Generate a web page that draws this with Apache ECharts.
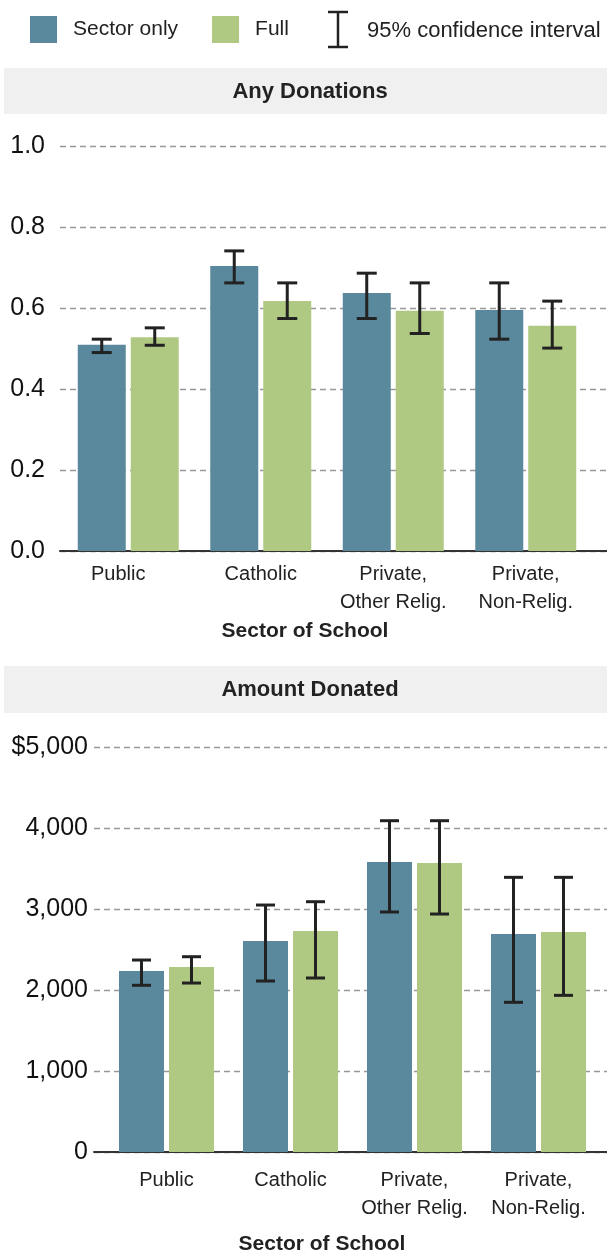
<!DOCTYPE html>
<html>
<head>
<meta charset="utf-8">
<script src="https://cdn.jsdelivr.net/npm/echarts@6/dist/echarts.min.js"></script>
<style>
  html, body { margin: 0; padding: 0; background: #fff; }
  #chart { width: 607px; height: 1253px; }
</style>
</head>
<body>
<div id="chart"></div>
<script>
// categories and values
var categories = ['Public', 'Catholic', 'Private,\nOther Relig.', 'Private,\nNon-Relig.'];

var anySector   = [0.509, 0.704, 0.637, 0.595];
var anySectorLo = [0.490, 0.662, 0.574, 0.523];
var anySectorHi = [0.523, 0.741, 0.686, 0.662];
var anyFull     = [0.528, 0.617, 0.593, 0.556];
var anyFullLo   = [0.508, 0.574, 0.537, 0.501];
var anyFullHi   = [0.551, 0.662, 0.662, 0.617];

var amtSector   = [2235, 2605, 3580, 2691];
var amtSectorLo = [2058, 2111, 2963, 1848];
var amtSectorHi = [2370, 3049, 4090, 3391];
var amtFull     = [2284, 2728, 3568, 2716];
var amtFullLo   = [2086, 2148, 2938, 1934];
var amtFullHi   = [2411, 3090, 4090, 3391];

var BLUE = '#5a889c', GREEN = '#b0c982', INK = '#222';
var FONT = '"Liberation Sans", Arial, sans-serif';

var chart = echarts.init(document.getElementById('chart'));

// rows for the error bar series: [category index, low, high]
function ciRows(lo, hi) {
  return lo.map(function (v, i) { return [i, v, hi[i]]; });
}

// draws an I-beam, shifted sideways to sit over its bar
function errorBar(shift, cap) {
  return function (params, api) {
    var i = api.value(0);
    var pLo = api.coord([i, api.value(1)]);
    var pHi = api.coord([i, api.value(2)]);
    var x = pLo[0] + shift;
    var st = { stroke: INK, lineWidth: 3 };
    return {
      type: 'group',
      children: [
        { type: 'line', shape: { x1: x, y1: pHi[1], x2: x, y2: pLo[1] }, style: st },
        { type: 'line', shape: { x1: x - cap, y1: pHi[1], x2: x + cap, y2: pHi[1] }, style: st },
        { type: 'line', shape: { x1: x - cap, y1: pLo[1], x2: x + cap, y2: pLo[1] }, style: st }
      ]
    };
  };
}

var gridLine = { show: true, lineStyle: { color: '#999', type: [6, 4], width: 1.3 } };

function panelGrid(left, right, top) {
  return { left: left, right: right, top: top, height: 405, outerBoundsMode: 'none', containLabel: false };
}

var option = {
  animation: false,
  textStyle: { fontFamily: FONT },
  legend: {
    data: ['Sector only', 'Full'],
    left: 30, top: 16, padding: 0,
    itemWidth: 27, itemHeight: 27, itemGap: 34,
    icon: 'rect',
    selectedMode: false,
    textStyle: { fontSize: 21, color: INK, padding: [3, 0, 0, 11] }
  },
  graphic: [
    // legend entry for the confidence interval
    { type: 'line', shape: { x1: 338, y1: 12, x2: 338, y2: 47 }, style: { stroke: INK, lineWidth: 2.5 } },
    { type: 'line', shape: { x1: 328, y1: 12, x2: 348, y2: 12 }, style: { stroke: INK, lineWidth: 2.5 } },
    { type: 'line', shape: { x1: 328, y1: 47, x2: 348, y2: 47 }, style: { stroke: INK, lineWidth: 2.5 } },
    { type: 'text', x: 367, y: 31, style: { text: '95% confidence interval', fontSize: 22, fill: INK, verticalAlign: 'middle', fontFamily: FONT } },
    // panel headers
    { type: 'rect', shape: { x: 4, y: 68, width: 603, height: 46 }, style: { fill: '#eff0ef' } },
    { type: 'text', x: 310, y: 92, style: { text: 'Any Donations', fontSize: 22, fontWeight: 'bold', fill: INK, align: 'center', verticalAlign: 'middle', fontFamily: FONT } },
    { type: 'rect', shape: { x: 4, y: 666, width: 603, height: 47 }, style: { fill: '#eff0ef' } },
    { type: 'text', x: 310, y: 690, style: { text: 'Amount Donated', fontSize: 22, fontWeight: 'bold', fill: INK, align: 'center', verticalAlign: 'middle', fontFamily: FONT } }
  ],
  grid: [
    panelGrid(60, 0, 146),      // top panel, gridlines
    panelGrid(62, 15, 146),     // top panel, bars
    panelGrid(94, 0, 747),      // bottom panel, gridlines
    panelGrid(104.5, 6.5, 747)  // bottom panel, bars
  ],
  xAxis: [
    { gridIndex: 0, type: 'category', data: categories,
      axisLine: { lineStyle: { color: '#333', width: 2 } }, axisTick: { show: false }, axisLabel: { show: false } },
    { gridIndex: 1, type: 'category', data: categories,
      axisLine: { show: false }, axisTick: { show: false },
      axisLabel: { interval: 0, fontSize: 20, lineHeight: 28, margin: 9, color: INK,
        // the first label sits a little left of its bars in the original
        formatter: function (v, i) { return i === 0 ? '{p|' + v + '}' : v; },
        rich: { p: { fontSize: 20, lineHeight: 28, color: INK, padding: [0, 20, 0, 0] } } },
      name: 'Sector of School', nameLocation: 'middle', nameGap: 70,
      nameTextStyle: { fontSize: 21, fontWeight: 'bold', color: INK, padding: [0, 44, 0, 0] } },
    { gridIndex: 2, type: 'category', data: categories,
      axisLine: { lineStyle: { color: '#333', width: 2 } }, axisTick: { show: false }, axisLabel: { show: false } },
    { gridIndex: 3, type: 'category', data: categories,
      axisLine: { show: false }, axisTick: { show: false },
      axisLabel: { interval: 0, fontSize: 20, lineHeight: 28, margin: 14, color: INK },
      name: 'Sector of School', nameLocation: 'middle', nameGap: 82,
      nameTextStyle: { fontSize: 21, fontWeight: 'bold', color: INK, padding: [0, 61, 0, 0] } }
  ],
  yAxis: [
    { gridIndex: 0, type: 'value', min: 0, max: 1, interval: 0.2,
      axisLine: { show: false }, axisTick: { show: false }, splitLine: gridLine,
      axisLabel: { fontSize: 25, color: '#111', margin: 15, formatter: function (v) { return v.toFixed(1); } } },
    { gridIndex: 1, type: 'value', min: 0, max: 1, show: false },
    { gridIndex: 2, type: 'value', min: 0, max: 5000, interval: 1000,
      axisLine: { show: false }, axisTick: { show: false }, splitLine: gridLine,
      axisLabel: { fontSize: 25, color: '#111', margin: 6,
        formatter: function (v) { var s = v.toLocaleString('en-US'); return v === 5000 ? '$' + s : s; } } },
    { gridIndex: 3, type: 'value', min: 0, max: 5000, show: false }
  ],
  series: [
    { name: 'Sector only', type: 'bar', xAxisIndex: 1, yAxisIndex: 1, data: anySector,
      barWidth: 48, barGap: '10.4%', itemStyle: { color: BLUE } },
    { name: 'Full', type: 'bar', xAxisIndex: 1, yAxisIndex: 1, data: anyFull,
      barWidth: 48, barGap: '10.4%', itemStyle: { color: GREEN } },
    { type: 'custom', xAxisIndex: 1, yAxisIndex: 1, data: ciRows(anySectorLo, anySectorHi),
      encode: { x: 0, y: [1, 2] }, renderItem: errorBar(-26.5, 10), z: 5 },
    { type: 'custom', xAxisIndex: 1, yAxisIndex: 1, data: ciRows(anyFullLo, anyFullHi),
      encode: { x: 0, y: [1, 2] }, renderItem: errorBar(26.5, 10), z: 5 },

    { name: 'Sector only', type: 'bar', xAxisIndex: 3, yAxisIndex: 3, data: amtSector,
      barWidth: 45, barGap: '11.1%', itemStyle: { color: BLUE } },
    { name: 'Full', type: 'bar', xAxisIndex: 3, yAxisIndex: 3, data: amtFull,
      barWidth: 45, barGap: '11.1%', itemStyle: { color: GREEN } },
    { type: 'custom', xAxisIndex: 3, yAxisIndex: 3, data: ciRows(amtSectorLo, amtSectorHi),
      encode: { x: 0, y: [1, 2] }, renderItem: errorBar(-25, 9.5), z: 5 },
    { type: 'custom', xAxisIndex: 3, yAxisIndex: 3, data: ciRows(amtFullLo, amtFullHi),
      encode: { x: 0, y: [1, 2] }, renderItem: errorBar(25, 9.5), z: 5 }
  ]
};

chart.setOption(option);
</script>
</body>
</html>
